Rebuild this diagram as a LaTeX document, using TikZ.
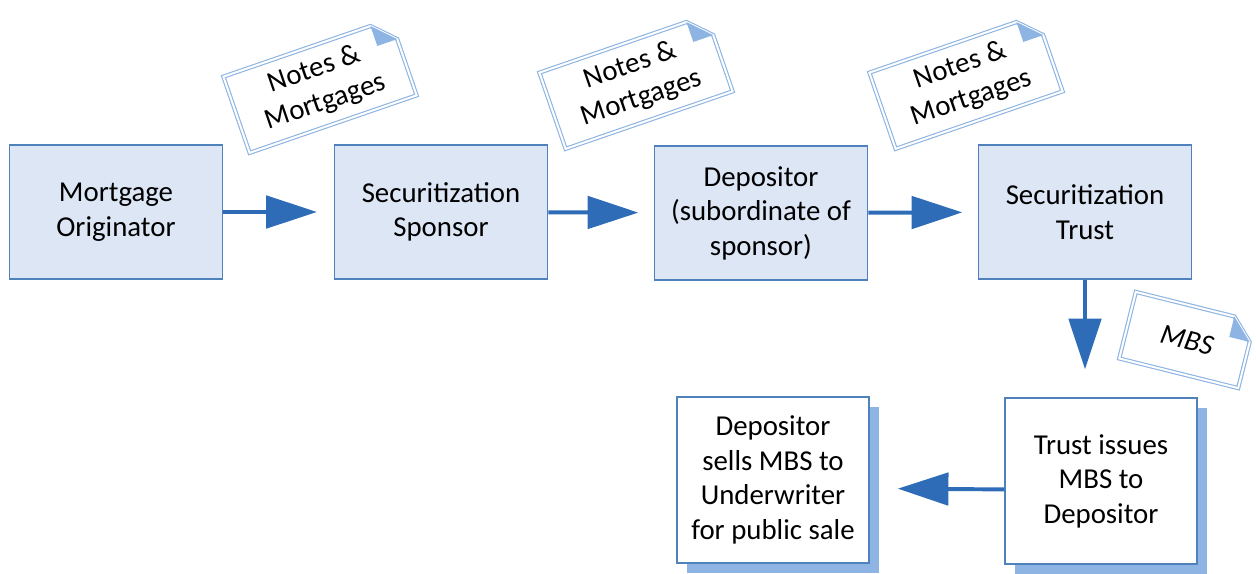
\documentclass[tikz,border=0pt]{standalone}
\usepackage{fontspec}
\setmainfont{Carlito}
\usetikzlibrary{arrows.meta,calc,shadows}

\definecolor{boxfill}{HTML}{DCE6F5}
\definecolor{boxline}{HTML}{4F81BD}
\definecolor{flowblue}{HTML}{2E6CB7}
\definecolor{docblue}{HTML}{8DB4E2}
\definecolor{shadeblue}{HTML}{8EB4E3}

\newcommand{\docframe}[1]{%
    \coordinate (#1-a) at ($(#1.north east)!15pt!(#1.north west)$);
    \coordinate (#1-b) at ($(#1.north east)!15pt!(#1.south east)$);
    \draw[docedge] (#1.north west) -- (#1-a) -- (#1-b) -- (#1.south east) -- (#1.south west) -- cycle;
    \fill[docblue] (#1-a) -- (#1-b) -- ($(#1-a)+(#1-b)-(#1.north east)$) -- cycle;
}

\begin{document}
\begin{tikzpicture}[x=0.025cm, y=-0.025cm,
    every node/.style={font=\fontsize{20.5}{24.5}\selectfont, align=center, inner sep=0pt},
    stage/.style={fill=boxfill, draw=boxline, line width=0.9pt, minimum width=5.33cm, minimum height=3.35cm},
    result/.style={fill=white, draw=boxline, line width=0.9pt, minimum width=4.8cm, minimum height=4.15cm,
        drop shadow={shadow xshift=7pt, shadow yshift=-7pt, fill=shadeblue, opacity=1}},
    paper/.style={minimum width=4.4cm, minimum height=2cm},
    docedge/.style={draw=docblue, line width=0.8pt, double=white, double distance=1.4pt, line join=miter},
    flow/.style={draw=flowblue, line width=2.8pt, -{Triangle[length=36pt, width=23pt]}}]
    \useasboundingbox (0,0) rectangle (1256,573);

    \node[stage] (orig) at (116, 212) {Mortgage\\Originator};
    \node[stage] (spons) at (441, 212) {Securitization\\Sponsor};
    \node[stage] (depo) at (761, 213) {Depositor\\(subordinate of\\sponsor)};
    \node[stage] (trust) at (1085, 212) {Securitization\\Trust};

    \node[result] (sells) at (773, 480) {Depositor\\sells MBS to\\Underwriter\\for public sale};
    \node[result] (issues) at (1101, 481) {Trust issues\\MBS to\\Depositor};

    \node[paper, rotate=19] (notesA) at (320, 86) {Notes \&\\Mortgages};
    \node[paper, rotate=19] (notesB) at (636, 82) {Notes \&\\Mortgages};
    \node[paper, rotate=19] (notesC) at (966, 82) {Notes \&\\Mortgages};
    \node[minimum width=3.05cm, minimum height=1.7cm, rotate=-14, font=\fontsize{20.5}{24.5}\selectfont\itshape] (mbs) at (1187, 340) {MBS};

    \docframe{notesA}
    \docframe{notesB}
    \docframe{notesC}
    \docframe{mbs}

    \draw[flow, shorten >=12pt] (orig) -- (spons);
    \draw[flow, shorten >=11pt] (spons) -- (depo);
    \draw[flow, shorten >=11pt] (depo) -- (trust);
    \draw[flow, shorten >=20pt] (trust.south) -- (trust.south |- issues.north);
    \draw[flow, shorten >=20pt] ([yshift=-6pt]issues.west) -- ([yshift=-6pt]sells.east);
\end{tikzpicture}
\end{document}
